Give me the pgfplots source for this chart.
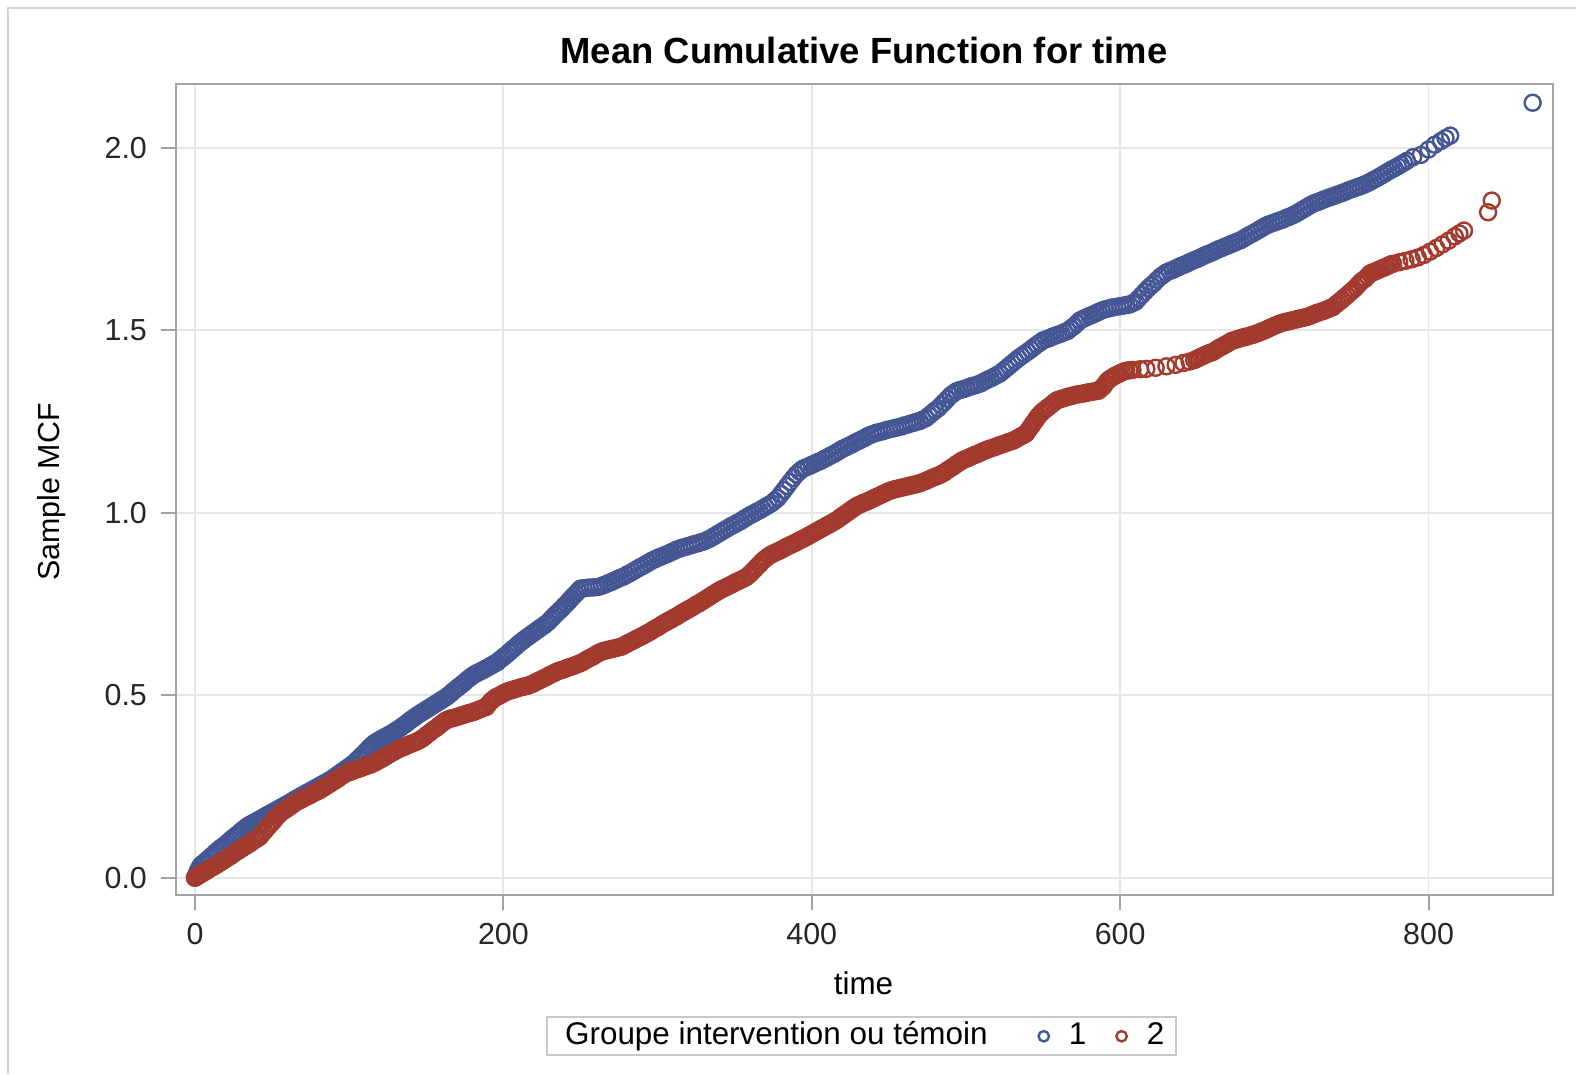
\documentclass[border=0pt]{standalone}
\usepackage{fontspec}
\setmainfont{Liberation Sans}
\usepackage{pgfplots}
\pgfplotsset{compat=1.18}
\definecolor{gblue}{HTML}{445694}
\definecolor{gred}{HTML}{A23A2E}
\definecolor{gridgray}{HTML}{E6E6E6}
\definecolor{axgray}{HTML}{A0A4A8}
\definecolor{framegray}{HTML}{D4D4D4}
\definecolor{leggray}{HTML}{C8C8C8}
\newcommand{\tfont}{\fontsize{7.6}{9}\selectfont}
\newcommand{\lfont}{\fontsize{7.85}{9}\selectfont}
\begin{document}
\begin{tikzpicture}
\useasboundingbox (0,0) rectangle (394pt,268.5pt);
\draw[framegray, line width=0.6pt] (2pt,0pt) -- (2pt,266.5pt) -- (394pt,266.5pt);
\node[font=\fontsize{9.1}{11}\selectfont\bfseries] at (216pt,256pt) {Mean Cumulative Function for time};
\begin{axis}[
  at={(44pt,44.875pt)}, anchor=south west,
  scale only axis, width=344.25pt, height=202.5pt,
  xmin=-12.3, xmax=880.7, ymin=-0.046, ymax=2.173,
  xtick={0,200,400,600,800},
  ytick={0,0.5,1,1.5,2},
  tick pos=left,
  yticklabel style={/pgf/number format/.cd, fixed, fixed zerofill, precision=1},
  /pgf/number format/assume math mode=true,
  tick label style={font=\tfont, text=black!85},
  tick align=outside, major tick length=3.75pt,
  tick style={axgray, line width=0.5pt},
  axis line style={axgray, line width=0.5pt},
  grid=major, major grid style={gridgray, line width=0.45pt},
  xlabel={time},
  xlabel style={font=\lfont, at={(axis description cs:0.4993,-0.109)}, anchor=center},
  ylabel={Sample MCF},
  ylabel style={font=\tfont, at={(axis description cs:-0.09,0.497)}, anchor=center, rotate=0},
  legend style={draw=leggray, fill=white, line width=0.5pt, at={(axis description cs:0.498,-0.175)}, anchor=center,
    font=\lfont, inner xsep=0pt, inner ysep=0pt, nodes={inner ysep=1.05pt},
    /tikz/every odd column/.style={column sep=3pt},
    /tikz/every even column/.style={column sep=5.5pt}},
  legend columns=-1,
  legend image code/.code={\draw[#1, mark size=1.3pt] plot coordinates {(0pt,0pt)};},
  every axis plot/.append style={only marks, mark=o, mark size=2pt, line width=0.6pt},
]
\addlegendimage{empty legend}
\addlegendentry{\kern-0.5pt Groupe intervention ou témoin\kern5.25pt\null}
\addplot[gblue] coordinates {
(0,0.000) (2,0.020) (4,0.035) (7,0.045) (10,0.056) (13,0.068) (16,0.079) (19,0.088) (22,0.099) (25,0.110) (28,0.120) (31,0.131) (34,0.141) (37,0.148) (40,0.155) (43,0.162) (46,0.169) (49,0.176) (52,0.183) (55,0.190) (58,0.197) (61,0.204) (64,0.212) (67,0.219) (70,0.226) (73,0.233) (76,0.240) (79,0.247) (82,0.254) (85,0.261) (88,0.268) (91,0.277) (94,0.286) (97,0.295) (100,0.304) (103,0.313) (106,0.326) (109,0.338) (112,0.351) (115,0.364) (118,0.373) (121,0.380) (124,0.387) (127,0.394) (130,0.402) (133,0.410) (136,0.419) (139,0.429) (142,0.438) (145,0.447) (148,0.455) (151,0.463) (154,0.471) (157,0.479) (160,0.487) (163,0.495) (166,0.505) (169,0.516) (172,0.526) (175,0.536) (178,0.547) (181,0.556) (184,0.563) (187,0.569) (190,0.576) (193,0.583) (196,0.590) (199,0.601) (202,0.611) (205,0.622) (208,0.633) (211,0.644) (214,0.654) (217,0.663) (220,0.672) (223,0.681) (226,0.690) (229,0.700) (232,0.713) (235,0.726) (238,0.738) (241,0.751) (244,0.765) (247,0.778) (250,0.792) (254,0.794) (258,0.795) (262,0.797) (266,0.803) (270,0.810) (274,0.818) (278,0.825) (282,0.834) (286,0.844) (290,0.853) (294,0.863) (298,0.872) (302,0.879) (306,0.886) (310,0.894) (314,0.901) (318,0.906) (322,0.911) (326,0.916) (330,0.921) (334,0.929) (338,0.939) (342,0.949) (346,0.959) (350,0.968) (354,0.977) (358,0.988) (362,0.997) (366,1.006) (370,1.016) (374,1.026) (378,1.040) (382,1.062) (386,1.084) (390,1.105) (394,1.120) (398,1.127) (402,1.135) (406,1.142) (410,1.151) (414,1.160) (418,1.170) (422,1.179) (426,1.187) (430,1.196) (434,1.204) (438,1.213) (442,1.219) (446,1.223) (450,1.228) (454,1.232) (458,1.236) (462,1.241) (466,1.246) (470,1.251) (474,1.259) (478,1.273) (482,1.286) (486,1.303) (490,1.321) (494,1.333) (498,1.338) (502,1.344) (506,1.349) (510,1.355) (514,1.364) (518,1.372) (522,1.381) (526,1.395) (530,1.409) (534,1.423) (538,1.435) (542,1.447) (546,1.460) (550,1.472) (554,1.478) (558,1.485) (562,1.491) (566,1.498) (570,1.511) (574,1.527) (578,1.535) (582,1.542) (586,1.550) (590,1.557) (594,1.561) (598,1.564) (602,1.567) (606,1.570) (610,1.578) (614,1.596) (618,1.614) (622,1.629) (626,1.646) (630,1.658) (634,1.665) (638,1.673) (642,1.680) (646,1.688) (650,1.695) (654,1.703) (658,1.710) (662,1.718) (666,1.725) (670,1.732) (674,1.739) (678,1.746) (682,1.756) (686,1.765) (690,1.775) (694,1.785) (698,1.792) (702,1.798) (706,1.804) (710,1.811) (714,1.819) (718,1.829) (722,1.839) (726,1.848) (730,1.854) (734,1.861) (738,1.867) (742,1.873) (746,1.879) (750,1.886) (754,1.892) (758,1.898) (762,1.906) (766,1.915) (770,1.925) (774,1.935) (778,1.944) (782,1.954) (786,1.964) (790,1.974) (795,1.980) (800,1.995) (804,2.008) (808,2.018) (811,2.026) (814,2.033) (867.5,2.123)
};
\addlegendentry{1}
\addplot[gblue, forget plot] coordinates {
(1,0.010) (3,0.028) (5.5,0.040) (8.5,0.051) (11.5,0.062) (14.5,0.074) (17.5,0.084) (20.5,0.094) (23.5,0.105) (26.5,0.115) (29.5,0.126) (32.5,0.136) (35.5,0.145) (38.5,0.152) (41.5,0.159) (44.5,0.166) (47.5,0.173) (50.5,0.180) (53.5,0.187) (56.5,0.194) (59.5,0.201) (62.5,0.208) (65.5,0.216) (68.5,0.223) (71.5,0.230) (74.5,0.237) (77.5,0.244) (80.5,0.251) (83.5,0.258) (86.5,0.265) (89.5,0.273) (92.5,0.282) (95.5,0.291) (98.5,0.300) (101.5,0.309) (104.5,0.320) (107.5,0.332) (110.5,0.345) (113.5,0.358) (116.5,0.369) (119.5,0.377) (122.5,0.384) (125.5,0.391) (128.5,0.398) (131.5,0.406) (134.5,0.415) (137.5,0.424) (140.5,0.434) (143.5,0.443) (146.5,0.451) (149.5,0.459) (152.5,0.467) (155.5,0.475) (158.5,0.483) (161.5,0.491) (164.5,0.500) (167.5,0.511) (170.5,0.521) (173.5,0.531) (176.5,0.542) (179.5,0.552) (182.5,0.560) (185.5,0.566) (188.5,0.573) (191.5,0.580) (194.5,0.587) (197.5,0.596) (200.5,0.606) (203.5,0.617) (206.5,0.628) (209.5,0.639) (212.5,0.649) (215.5,0.659) (218.5,0.668) (221.5,0.677) (224.5,0.686) (227.5,0.695) (230.5,0.707) (233.5,0.720) (236.5,0.732) (239.5,0.745) (242.5,0.758) (245.5,0.772) (248.5,0.785) (252,0.793) (256,0.795) (260,0.796) (264,0.800) (268,0.807) (272,0.814) (276,0.822) (280,0.830) (284,0.839) (288,0.849) (292,0.858) (296,0.868) (300,0.876) (304,0.883) (308,0.890) (312,0.898) (316,0.904) (320,0.909) (324,0.914) (328,0.919) (332,0.925) (336,0.934) (340,0.944) (344,0.954) (348,0.964) (352,0.973) (356,0.983) (360,0.993) (364,1.002) (368,1.011) (372,1.021) (376,1.033) (380,1.051) (384,1.073) (388,1.095) (392,1.113) (396,1.124) (400,1.131) (404,1.139) (408,1.147) (412,1.156) (416,1.165) (420,1.175) (424,1.183) (428,1.192) (432,1.200) (436,1.209) (440,1.216) (444,1.221) (448,1.226) (452,1.230) (456,1.234) (460,1.239) (464,1.244) (468,1.249) (472,1.255) (476,1.266) (480,1.280) (484,1.295) (488,1.312) (492,1.327) (496,1.336) (500,1.341) (504,1.347) (508,1.352) (512,1.360) (516,1.368) (520,1.377) (524,1.388) (528,1.402) (532,1.416) (536,1.429) (540,1.441) (544,1.454) (548,1.466) (552,1.475) (556,1.482) (560,1.488) (564,1.495) (568,1.505) (572,1.519) (576,1.531) (580,1.539) (584,1.546) (588,1.554) (592,1.559) (596,1.563) (600,1.566) (604,1.569) (608,1.574) (612,1.587) (616,1.605) (620,1.622) (624,1.638) (628,1.652) (632,1.662) (636,1.669) (640,1.677) (644,1.684) (648,1.692) (652,1.699) (656,1.707) (660,1.714) (664,1.722) (668,1.729) (672,1.736) (676,1.743) (680,1.751) (684,1.761) (688,1.770) (692,1.780) (696,1.789) (700,1.795) (704,1.801) (708,1.808) (712,1.815) (716,1.824) (720,1.834) (724,1.844) (728,1.851) (732,1.858) (736,1.864) (740,1.870) (744,1.876) (748,1.883) (752,1.889) (756,1.895) (760,1.902) (764,1.911) (768,1.920) (772,1.930) (776,1.940) (780,1.949) (784,1.959)
};
\addplot[gred] coordinates {
(0,0.000) (2,0.005) (4,0.010) (6,0.015) (9,0.023) (12,0.030) (15,0.038) (18,0.046) (21,0.054) (24,0.062) (27,0.071) (30,0.079) (33,0.087) (36,0.095) (39,0.104) (42,0.112) (45,0.127) (48,0.142) (51,0.156) (54,0.171) (57,0.182) (60,0.190) (63,0.199) (66,0.208) (69,0.214) (72,0.221) (75,0.227) (78,0.234) (81,0.240) (84,0.248) (87,0.256) (90,0.264) (93,0.272) (96,0.281) (99,0.288) (102,0.292) (105,0.297) (108,0.301) (111,0.306) (114,0.310) (117,0.316) (120,0.323) (123,0.330) (126,0.338) (129,0.345) (132,0.352) (135,0.357) (138,0.363) (141,0.368) (144,0.373) (147,0.380) (150,0.390) (153,0.400) (156,0.409) (159,0.419) (162,0.429) (165,0.435) (168,0.438) (171,0.442) (174,0.446) (177,0.450) (180,0.453) (183,0.458) (186,0.463) (189,0.468) (192,0.484) (195,0.494) (198,0.500) (201,0.507) (204,0.512) (207,0.516) (210,0.520) (213,0.523) (216,0.526) (219,0.531) (222,0.538) (225,0.544) (228,0.550) (231,0.557) (234,0.563) (237,0.568) (240,0.572) (243,0.577) (246,0.581) (249,0.586) (252,0.592) (255,0.600) (258,0.606) (261,0.614) (264,0.620) (267,0.623) (270,0.626) (273,0.629) (276,0.632) (279,0.638) (282,0.645) (285,0.651) (288,0.658) (291,0.664) (294,0.671) (297,0.679) (300,0.686) (303,0.694) (306,0.701) (309,0.708) (312,0.715) (315,0.723) (318,0.730) (321,0.737) (324,0.745) (327,0.752) (330,0.760) (333,0.768) (336,0.776) (339,0.784) (342,0.791) (345,0.797) (348,0.803) (351,0.810) (354,0.816) (357,0.822) (360,0.832) (363,0.845) (366,0.858) (369,0.871) (372,0.881) (375,0.888) (378,0.894) (381,0.900) (384,0.907) (387,0.913) (390,0.919) (393,0.926) (396,0.932) (399,0.939) (402,0.946) (405,0.953) (408,0.960) (411,0.967) (414,0.974) (417,0.982) (420,0.991) (423,1.000) (426,1.009) (429,1.018) (432,1.024) (435,1.029) (438,1.035) (441,1.041) (444,1.047) (447,1.053) (450,1.059) (453,1.063) (456,1.066) (459,1.069) (462,1.072) (465,1.075) (468,1.078) (471,1.082) (474,1.087) (477,1.093) (480,1.098) (483,1.103) (486,1.110) (489,1.119) (492,1.127) (495,1.136) (498,1.144) (501,1.149) (504,1.155) (507,1.160) (510,1.166) (513,1.171) (516,1.176) (519,1.180) (522,1.185) (525,1.189) (528,1.194) (531,1.198) (534,1.205) (537,1.212) (539,1.217) (541,1.229) (543,1.241) (545,1.253) (547,1.265) (550,1.278) (553,1.288) (556,1.298) (559,1.308) (562,1.312) (565,1.316) (568,1.319) (571,1.323) (574,1.325) (577,1.327) (580,1.330) (583,1.332) (586,1.334) (589,1.345) (592,1.362) (595,1.371) (598,1.378) (601,1.384) (604,1.389) (608,1.391) (613,1.393) (617,1.394) (623,1.397) (630,1.401) (636,1.405) (641,1.410) (645,1.414) (648,1.418) (651,1.424) (654,1.430) (657,1.436) (660,1.440) (663,1.448) (666,1.455) (669,1.462) (672,1.470) (675,1.474) (678,1.478) (681,1.481) (684,1.485) (687,1.488) (690,1.493) (693,1.498) (696,1.504) (699,1.510) (702,1.515) (705,1.520) (708,1.523) (711,1.526) (714,1.529) (717,1.532) (720,1.535) (723,1.539) (726,1.544) (729,1.549) (732,1.553) (735,1.558) (738,1.563) (741,1.574) (744,1.584) (747,1.595) (750,1.606) (753,1.618) (756,1.632) (759,1.641) (762,1.655) (765,1.660) (768,1.666) (771,1.671) (774,1.677) (777,1.682) (781,1.686) (785,1.690) (789,1.694) (793,1.699) (797,1.706) (801,1.715) (805,1.725) (809,1.735) (813,1.745) (817,1.757) (820,1.765) (823,1.773) (838.6,1.823) (841,1.855)
};
\addlegendentry{2\kern1pt\null}
\addplot[gred, forget plot] coordinates {
(1,0.003) (3,0.008) (5,0.013) (7.5,0.019) (10.5,0.027) (13.5,0.034) (16.5,0.042) (19.5,0.050) (22.5,0.058) (25.5,0.067) (28.5,0.075) (31.5,0.083) (34.5,0.091) (37.5,0.100) (40.5,0.108) (43.5,0.120) (46.5,0.135) (49.5,0.149) (52.5,0.164) (55.5,0.177) (58.5,0.186) (61.5,0.195) (64.5,0.204) (67.5,0.211) (70.5,0.218) (73.5,0.224) (76.5,0.231) (79.5,0.237) (82.5,0.244) (85.5,0.252) (88.5,0.260) (91.5,0.268) (94.5,0.277) (97.5,0.285) (100.5,0.290) (103.5,0.295) (106.5,0.299) (109.5,0.304) (112.5,0.308) (115.5,0.313) (118.5,0.320) (121.5,0.327) (124.5,0.334) (127.5,0.342) (130.5,0.349) (133.5,0.355) (136.5,0.360) (139.5,0.366) (142.5,0.371) (145.5,0.377) (148.5,0.385) (151.5,0.395) (154.5,0.405) (157.5,0.414) (160.5,0.424) (163.5,0.432) (166.5,0.437) (169.5,0.440) (172.5,0.444) (175.5,0.448) (178.5,0.452) (181.5,0.456) (184.5,0.461) (187.5,0.466) (190.5,0.476) (193.5,0.489) (196.5,0.497) (199.5,0.504) (202.5,0.510) (205.5,0.514) (208.5,0.518) (211.5,0.522) (214.5,0.525) (217.5,0.529) (220.5,0.535) (223.5,0.541) (226.5,0.547) (229.5,0.554) (232.5,0.560) (235.5,0.566) (238.5,0.570) (241.5,0.575) (244.5,0.579) (247.5,0.584) (250.5,0.589) (253.5,0.596) (256.5,0.603) (259.5,0.610) (262.5,0.617) (265.5,0.622) (268.5,0.625) (271.5,0.628) (274.5,0.631) (277.5,0.635) (280.5,0.642) (283.5,0.648) (286.5,0.655) (289.5,0.661) (292.5,0.668) (295.5,0.675) (298.5,0.683) (301.5,0.690) (304.5,0.698) (307.5,0.705) (310.5,0.712) (313.5,0.719) (316.5,0.727) (319.5,0.734) (322.5,0.741) (325.5,0.749) (328.5,0.756) (331.5,0.764) (334.5,0.772) (337.5,0.780) (340.5,0.788) (343.5,0.794) (346.5,0.800) (349.5,0.807) (352.5,0.813) (355.5,0.819) (358.5,0.827) (361.5,0.839) (364.5,0.852) (367.5,0.865) (370.5,0.876) (373.5,0.885) (376.5,0.891) (379.5,0.897) (382.5,0.904) (385.5,0.910) (388.5,0.916) (391.5,0.923) (394.5,0.929) (397.5,0.936) (400.5,0.943) (403.5,0.950) (406.5,0.957) (409.5,0.964) (412.5,0.971) (415.5,0.978) (418.5,0.987) (421.5,0.996) (424.5,1.005) (427.5,1.014) (430.5,1.021) (433.5,1.027) (436.5,1.032) (439.5,1.038) (442.5,1.044) (445.5,1.050) (448.5,1.056) (451.5,1.061) (454.5,1.065) (457.5,1.068) (460.5,1.071) (463.5,1.074) (466.5,1.077) (469.5,1.080) (472.5,1.085) (475.5,1.090) (478.5,1.096) (481.5,1.101) (484.5,1.107) (487.5,1.115) (490.5,1.123) (493.5,1.132) (496.5,1.140) (499.5,1.147) (502.5,1.152) (505.5,1.158) (508.5,1.163) (511.5,1.169) (514.5,1.174) (517.5,1.178) (520.5,1.183) (523.5,1.187) (526.5,1.192) (529.5,1.196) (532.5,1.202) (535.5,1.209) (538,1.215) (540,1.223) (542,1.235) (544,1.247) (546,1.259) (548.5,1.272) (551.5,1.283) (554.5,1.293) (557.5,1.303) (560.5,1.310) (563.5,1.314) (566.5,1.318) (569.5,1.321) (572.5,1.324) (575.5,1.326) (578.5,1.329) (581.5,1.331) (584.5,1.333) (587.5,1.340) (590.5,1.354) (593.5,1.367) (596.5,1.375) (599.5,1.381) (602.5,1.387) (606,1.390) (649.5,1.421) (652.5,1.427) (655.5,1.433) (658.5,1.438) (661.5,1.444) (664.5,1.452) (667.5,1.459) (670.5,1.466) (673.5,1.472) (676.5,1.476) (679.5,1.480) (682.5,1.483) (685.5,1.487) (688.5,1.491) (691.5,1.496) (694.5,1.501) (697.5,1.507) (700.5,1.513) (703.5,1.518) (706.5,1.522) (709.5,1.525) (712.5,1.528) (715.5,1.531) (718.5,1.534) (721.5,1.537) (724.5,1.542) (727.5,1.547) (730.5,1.551) (733.5,1.556) (736.5,1.561) (739.5,1.569) (742.5,1.579) (745.5,1.590) (748.5,1.601) (751.5,1.612) (754.5,1.625) (757.5,1.637) (760.5,1.648) (763.5,1.658) (766.5,1.663) (769.5,1.669) (772.5,1.674) (775.5,1.680)
};
\end{axis}
\end{tikzpicture}
\end{document}
